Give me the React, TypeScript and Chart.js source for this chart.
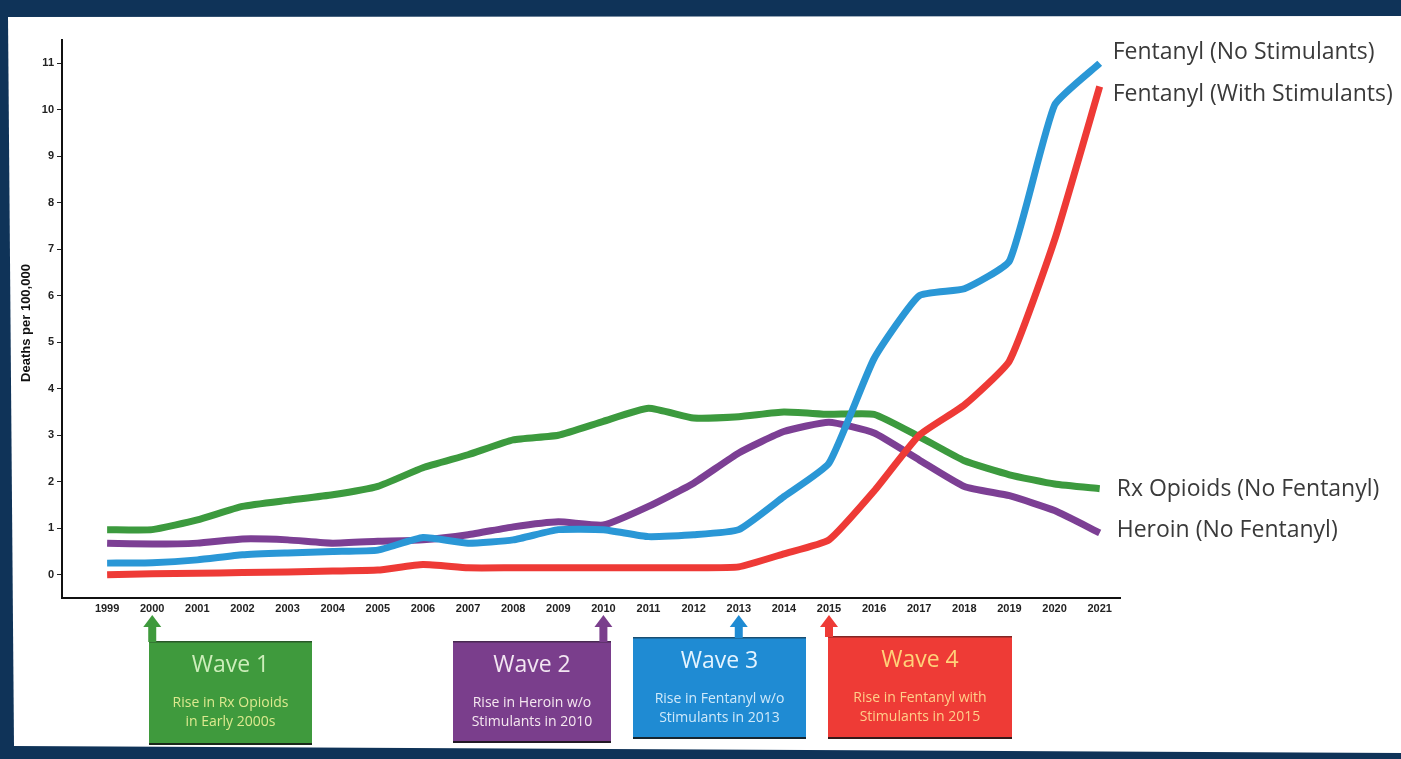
import React, { useEffect, useRef } from "react";
import { Chart, registerables } from "chart.js";

Chart.register(...registerables);

const years = [1999, 2000, 2001, 2002, 2003, 2004, 2005, 2006, 2007, 2008, 2009, 2010, 2011, 2012, 2013, 2014, 2015, 2016, 2017, 2018, 2019, 2020, 2021];
const yTicks = [0, 1, 2, 3, 4, 5, 6, 7, 8, 9, 10, 11];

const fentanylNoStim = [0.25, 0.26, 0.32, 0.43, 0.47, 0.5, 0.53, 0.8, 0.68, 0.75, 0.97, 0.97, 0.82, 0.86, 0.97, 1.68, 2.4, 4.65, 6.0, 6.15, 6.75, 10.1, 11.0];
const fentanylWithStim = [0.0, 0.02, 0.03, 0.05, 0.06, 0.08, 0.1, 0.22, 0.15, 0.15, 0.15, 0.15, 0.15, 0.15, 0.17, 0.45, 0.75, 1.8, 3.0, 3.65, 4.6, 7.2, 10.5];
const rxOpioids = [0.97, 0.97, 1.18, 1.47, 1.6, 1.72, 1.9, 2.3, 2.58, 2.9, 3.0, 3.3, 3.58, 3.37, 3.4, 3.5, 3.45, 3.45, 2.97, 2.45, 2.15, 1.95, 1.85];
const heroin = [0.68, 0.66, 0.68, 0.77, 0.75, 0.68, 0.72, 0.75, 0.86, 1.03, 1.14, 1.07, 1.47, 1.97, 2.62, 3.08, 3.28, 3.05, 2.47, 1.9, 1.7, 1.38, 0.9];

const seriesLabels = ["Fentanyl (No Stimulants)", "Fentanyl (With Stimulants)", "Rx Opioids (No Fentanyl)", "Heroin (No Fentanyl)"];

const waveYears = [2000, 2010, 2013, 2015];
const waveTitles = ["Wave 1", "Wave 2", "Wave 3", "Wave 4"];
const waveLines = [
  ["Rise in Rx Opioids", "in Early 2000s"],
  ["Rise in Heroin w/o", "Stimulants in 2010"],
  ["Rise in Fentanyl w/o", "Stimulants in 2013"],
  ["Rise in Fentanyl with", "Stimulants in 2015"],
];

const COLORS = {
  blue: "#2a97d6",
  red: "#ee3a36",
  green: "#3c9a3e",
  purple: "#7c3f94",
};

// layout/style constants (not data)
const labelOffsets = [
  [13, -11],
  [13, 8],
  [17, 1],
  [17, -2],
];
const waveBoxes = [
  { x: 149, y: 641, w: 163, h: 104, fill: "#3f9a3d", title: "#cdeebb", sub: "#dde98f" },
  { x: 453, y: 641, w: 158, h: 102, fill: "#7a3e8c", title: "#f2e6f2", sub: "#f5e8f0" },
  { x: 633, y: 637, w: 173, h: 102, fill: "#1f8bd3", title: "#e4f4ff", sub: "#cfe9fa" },
  { x: 828, y: 636, w: 184, h: 103, fill: "#ee3b36", title: "#ffd27a", sub: "#ffcf8a" },
];

const bgPlugin = {
  id: "bgPlugin",
  beforeDraw(chart: any) {
    const ctx = chart.ctx;
    const W = chart.width;
    const H = chart.height;
    ctx.save();
    ctx.fillStyle = "#0f3358";
    ctx.fillRect(0, 0, W, H);
    ctx.fillStyle = "#ffffff";
    ctx.beginPath();
    ctx.moveTo(8, 17);
    ctx.lineTo(W, 16);
    ctx.lineTo(W, 753);
    ctx.lineTo(14, 746);
    ctx.closePath();
    ctx.fill();
    ctx.restore();
  },
};

const overlayPlugin = {
  id: "overlayPlugin",
  afterDraw(chart: any) {
    const ctx = chart.ctx;
    const xs = chart.scales.x;
    ctx.save();
    // y axis title
    ctx.fillStyle = "#111";
    ctx.font = "bold 13px 'Liberation Sans', Arial, sans-serif";
    ctx.translate(26, 323);
    ctx.rotate(-Math.PI / 2);
    ctx.textAlign = "center";
    ctx.textBaseline = "middle";
    ctx.fillText("Deaths per 100,000", 0, 0);
    ctx.restore();

    // series end labels
    ctx.save();
    ctx.font = "23px 'Open Sans', 'Noto Sans', sans-serif";
    ctx.fillStyle = "#3a3a3a";
    ctx.textAlign = "left";
    ctx.textBaseline = "middle";
    chart.data.datasets.forEach((ds: any, i: number) => {
      const meta = chart.getDatasetMeta(i);
      const last = meta.data[meta.data.length - 1];
      if (!last) return;
      ctx.fillText(ds.label, last.x + labelOffsets[i][0], last.y + labelOffsets[i][1]);
    });
    ctx.restore();

    // wave boxes
    waveBoxes.forEach((b, i) => {
      const ax = xs.getPixelForValue(waveYears[i]);
      ctx.save();
      ctx.fillStyle = b.fill;
      ctx.fillRect(b.x, b.y, b.w, b.h);
      ctx.fillStyle = "rgba(20,20,20,0.85)";
      ctx.fillRect(b.x, b.y + b.h - 2, b.w, 2);
      ctx.fillStyle = "rgba(20,20,20,0.5)";
      ctx.fillRect(b.x, b.y, b.w, 1.5);
      // arrow
      ctx.fillStyle = b.fill;
      const stemTop = 626;
      ctx.fillRect(ax - 4, stemTop, 8, b.y - stemTop + 1);
      ctx.beginPath();
      ctx.moveTo(ax - 9, stemTop + 1);
      ctx.lineTo(ax, 615);
      ctx.lineTo(ax + 9, stemTop + 1);
      ctx.closePath();
      ctx.fill();
      // text
      const cx = b.x + b.w / 2;
      ctx.textAlign = "center";
      ctx.textBaseline = "middle";
      ctx.fillStyle = b.title;
      ctx.font = "23px 'Open Sans', 'Noto Sans', sans-serif";
      ctx.fillText(waveTitles[i], cx, b.y + 24);
      ctx.fillStyle = b.sub;
      ctx.font = "14px 'Open Sans', 'Noto Sans', sans-serif";
      ctx.fillText(waveLines[i][0], cx, b.y + 62);
      ctx.fillText(waveLines[i][1], cx, b.y + 81);
      ctx.restore();
    });
  },
};

export default function App() {
  const ref = useRef<HTMLCanvasElement | null>(null);

  useEffect(() => {
    if (!ref.current) return;
    const mk = (label: string, vals: number[], color: string) => ({
      label,
      data: years.map((y, i) => ({ x: y, y: vals[i] })),
      borderColor: color,
      backgroundColor: color,
      borderWidth: 7,
      pointRadius: 0,
      tension: 0.15,
      fill: false,
      borderCapStyle: "butt" as const,
      borderJoinStyle: "round" as const,
    });
    const chart = new Chart(ref.current, {
      type: "line",
      data: {
        datasets: [
          mk(seriesLabels[0], fentanylNoStim, COLORS.blue),
          mk(seriesLabels[1], fentanylWithStim, COLORS.red),
          mk(seriesLabels[2], rxOpioids, COLORS.green),
          mk(seriesLabels[3], heroin, COLORS.purple),
        ],
      },
      options: {
        animation: false,
        responsive: true,
        maintainAspectRatio: false,
        layout: { padding: { left: 0, top: 40, right: 281, bottom: 0 } },
        plugins: { legend: { display: false }, tooltip: { enabled: false } },
        scales: {
          x: {
            type: "linear",
            min: 1998,
            max: 2021.45,
            afterBuildTicks: (s: any) => {
              s.ticks = years.map((v) => ({ value: v }));
            },
            afterFit: (s: any) => {
              s.height = 161;
            },
            grid: { display: false, drawTicks: false, tickLength: 0 },
            border: { display: true, color: "#111", width: 2 },
            ticks: {
              autoSkip: false,
              maxRotation: 0,
              padding: 4,
              color: "#222",
              font: { family: "'Liberation Sans', Arial, sans-serif", size: 11, weight: "bold" },
              callback: (v: any) => String(v),
            },
          },
          y: {
            type: "linear",
            min: -0.5,
            max: 11.5,
            afterBuildTicks: (s: any) => {
              s.ticks = yTicks.map((v) => ({ value: v }));
            },
            afterFit: (s: any) => {
              s.width = 62;
            },
            grid: { display: true, drawOnChartArea: false, drawTicks: true, tickLength: 5, color: "#222", lineWidth: 1 },
            border: { display: true, color: "#111", width: 2 },
            ticks: {
              padding: 3,
              color: "#222",
              font: { family: "'Liberation Sans', Arial, sans-serif", size: 11, weight: "bold" },
              callback: (v: any) => String(v),
            },
          },
        },
      },
      plugins: [bgPlugin, overlayPlugin],
    });
    return () => chart.destroy();
  }, []);

  return (
    <div style={{ position: "fixed", left: 0, top: 0, width: 1401, height: 759 }}>
      <canvas ref={ref} />
    </div>
  );
}
